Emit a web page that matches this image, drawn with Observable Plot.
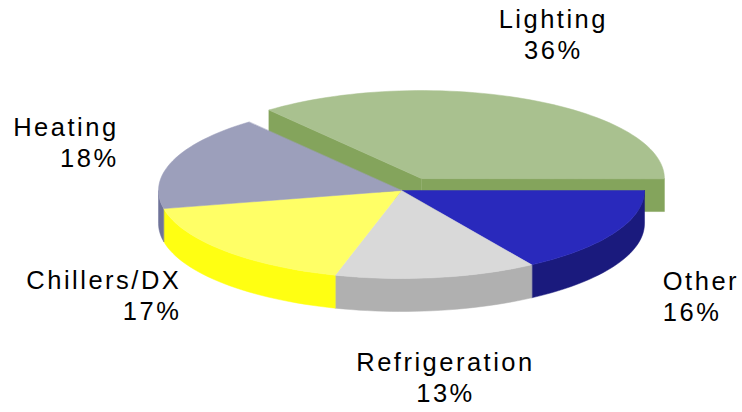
<!DOCTYPE html>
<html>
<head>
<meta charset="utf-8">
<script src="https://cdn.jsdelivr.net/npm/d3@7"></script>
<script src="https://cdn.jsdelivr.net/npm/@observablehq/plot@0.6"></script>
<style>html,body{margin:0;padding:0;background:#fff}</style>
</head>
<body>
<div id="chart"></div>
<script>
// Data, clockwise from the 3 o'clock position
const categories = ["Other", "Refrigeration", "Chillers/DX", "Heating", "Lighting"];
const percentLabels = [16, 13, 17, 18, 36];           // as printed
const sliceSizes = [16, 13.4, 17.3, 17.5, 35.8];      // as drawn

// Style and layout
const topColors = ["#2929BC", "#D9D9D9", "#FFFF66", "#9C9FBB", "#A9C18F"];
const wallColors = ["#1A1A7D", "#B0B0B0", "#FFFF12", "#6F7399", "#84A45C"];
const labelAnchors = ["start", "middle", "end", "end", "middle"];
const labelReachX = [1.227, 1.257, 1.239, 1.236, 1.448];
const labelReachY = [2.522, 2.157, 1.767, 1.595, 1.953];
const depth = 0.375;                    // wall height, in pie-radius units of y
const explode = {x: 0.082, y: -0.136};  // displacement of the Lighting slice
const explodedSlice = "Lighting";

const rad = d => d * Math.PI / 180;
const total = d3.sum(sliceSizes);
let cum = 0;
const slices = categories.map((name, i) => {
  const a0 = cum / total * 360;
  cum += sliceSizes[i];
  const a1 = cum / total * 360;
  const off = name === explodedSlice ? explode : {x: 0, y: 0};
  return {name, i, a0, a1, off};
});

const arc = (s, a0, a1, dy = 0) => {
  const n = Math.max(1, Math.ceil(Math.abs(a1 - a0) / 2));
  return d3.range(n + 1).map(k => {
    const a = rad(a0 + (a1 - a0) * k / n);
    return [Math.cos(a) + s.off.x, Math.sin(a) + s.off.y + dy];
  });
};
const rows = [];
const add = (id, color, pts) => pts.forEach(([x, y]) => rows.push({id, color, x, y}));

// Back layer: exploded slice with its two cut faces
slices.filter(s => s.name === explodedSlice).forEach(s => {
  const apex = [s.off.x, s.off.y], apexLow = [s.off.x, s.off.y + depth];
  [s.a0, s.a1].forEach((a, j) => {
    const rim = arc(s, a, a)[0];
    add(`cut${j}`, wallColors[s.i], [apex, rim, [rim[0], rim[1] + depth], apexLow]);
  });
  add("top-" + s.name, topColors[s.i], [apex, ...arc(s, s.a0, s.a1)]);
});
// Front layer: outer walls (the part facing the viewer), then tops
slices.filter(s => s.name !== explodedSlice).forEach(s => {
  const a0 = s.a0, a1 = Math.min(s.a1, 180);
  if (a1 > a0) add("wall-" + s.name, wallColors[s.i], [...arc(s, a0, a1), ...arc(s, a1, a0, depth)]);
});
slices.filter(s => s.name !== explodedSlice).forEach(s => {
  add("top-" + s.name, topColors[s.i], [[0, 0], ...arc(s, s.a0, s.a1)]);
});

const labels = slices.map(s => {
  const mid = rad((s.a0 + s.a1) / 2);
  return {
    text: `${s.name}\n${percentLabels[s.i]}%`,
    x: Math.cos(mid) * labelReachX[s.i],
    y: Math.sin(mid) * labelReachY[s.i],
    anchor: labelAnchors[s.i]
  };
});

const textMark = anchor => Plot.text(labels.filter(d => d.anchor === anchor), {
  x: "x", y: "y", text: "text", textAnchor: anchor, lineHeight: 1.22, dy: -2,
  fontFamily: "Liberation Sans", fontSize: 25.5, fill: "#000"
});

const chart = Plot.plot({
  width: 742,
  height: 412,
  margin: 0,
  x: {domain: [-1, 1], range: [158, 644], axis: null},
  y: {domain: [-1, 1], range: [102, 278], axis: null},
  color: {type: "identity"},
  style: {letterSpacing: "2.5px", background: "#fff"},
  marks: [
    Plot.line(rows, {x: "x", y: "y", z: "id", fill: "color", stroke: "color", strokeWidth: 0.5, curve: "linear-closed"}),
    textMark("start"),
    textMark("middle"),
    textMark("end")
  ]
});
document.getElementById("chart").append(chart);
</script>
</body>
</html>
